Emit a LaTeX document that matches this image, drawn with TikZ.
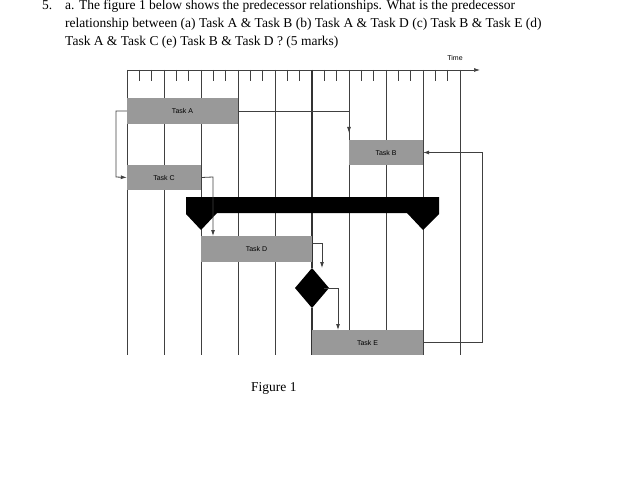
\documentclass[tikz,border=0pt]{standalone}
\usepackage{fontspec}
\setmainfont{Liberation Serif}
\setsansfont{Liberation Sans}
\begin{document}
\begin{tikzpicture}[x=1pt,y=-1pt,
  txt/.style={anchor=base west,inner sep=0,font=\fontsize{13.5}{16}\selectfont},
  task/.style={fill=black!40,draw=none,inner sep=0,font=\sffamily\fontsize{7}{8}\selectfont},
  grid/.style={draw=black!75,line width=0.7pt},
  con/.style={draw=black!75,line width=0.8pt,-{Latex[length=6pt,width=4pt]}}]
\usetikzlibrary{arrows.meta}
\useasboundingbox (0,0) rectangle (640,500);
\node[txt] (n5) at (42,10) {5.};
\node[txt] (l1) at (65,10) {a. The figure 1 below shows the predecessor relationships. What is the predecessor};
\node[txt] (l2) at (65,28) {relationship between (a) Task A \& Task B (b) Task A \& Task D (c) Task B \& Task E (d)};
\node[txt] (l3) at (65,46) {Task A \& Task C (e) Task B \& Task D ? (5 marks)};
\node[txt] (fig) at (251,391) {Figure 1};
\node[font=\sffamily\fontsize{7}{8}\selectfont,inner sep=0] (time) at (455,58) {Time};
% axis
\coordinate (ax0) at (127,70); \coordinate (ax1) at (480,70);
\draw[grid,-{Latex[length=6pt,width=4pt]}] (ax0) -- (ax1);
\foreach \i in {0,...,9} {
  \pgfmathsetmacro\xx{127+37*\i}
  \draw[grid] (\xx,70) -- (\xx,355);
  \ifnum\i<9
  \draw[grid] (\xx+12,70) -- (\xx+12,81);
  \draw[grid] (\xx+24,70) -- (\xx+24,81);
  \fi
}
\draw[line width=1.1pt,black!80] (312,70) -- (312,355);
% tasks
\node[task,minimum width=111,minimum height=26] (A) at (182.5,111) {Task A};
\node[task,minimum width=74,minimum height=25] (B) at (386,152.5) {Task B};
\node[task,minimum width=74,minimum height=25] (C) at (164,177.5) {Task C};
\node[task,minimum width=111,minimum height=26] (D) at (256.5,249) {Task D};
\node[task,minimum width=111,minimum height=25] (E) at (367.5,342.5) {Task E};
% summary bar
\fill[black] (186,197) -- (439,197) -- (439,214) -- (423,230) -- (407,213) -- (217,213) -- (201,230) -- (186,214) -- cycle;
% milestone
\node[draw=none,fill=black,minimum width=34,minimum height=40,inner sep=0,
  path picture={\fill[white] (path picture bounding box.north west) rectangle (path picture bounding box.south east);}] (M) at (312,288) {};
\fill[black] (295,288) -- (312,268) -- (329,288) -- (312,308) -- cycle;
% connectors
\draw[con] (A.east) -- (349,111) -- (349,133);
\draw[con] (A.west) -- (116,111) -- (116,177) -- (C.west);
\draw[con] (C.east) -- (213,177) -- (213,236);
\draw[con] (D.east |- 0,243) -- (322,243) -- (322,268);
\draw[con] (M.east |- 0,288) ++(-5,0) -- (338,288) -- (338,330);
\draw[con] (E.east) -- (482,342.5) -- (482,152.5) -- (B.east);
\end{tikzpicture}
\end{document}
